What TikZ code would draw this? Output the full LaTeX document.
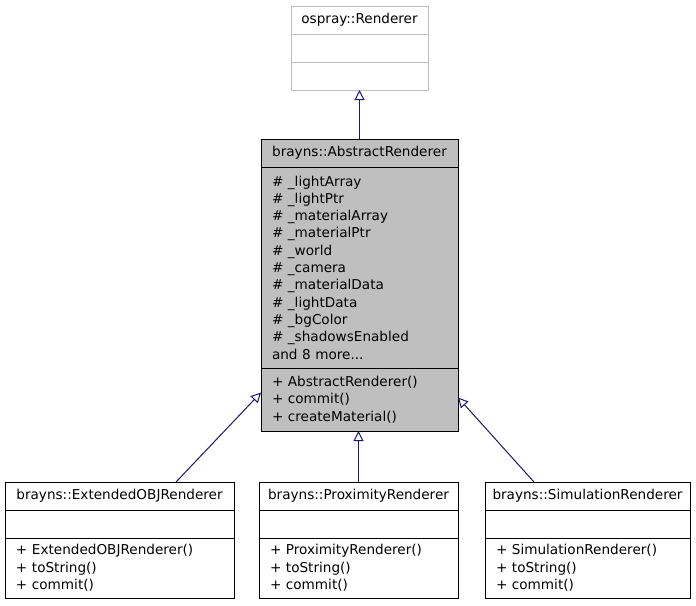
\documentclass[tikz,border=0pt]{standalone}
\usepackage{fontspec}
\setmainfont{DejaVu Sans}
\usepackage{tikz}
\usetikzlibrary{arrows.meta, positioning}
\definecolor{dxgray}{HTML}{BFBFBF}
\definecolor{dxnavy}{HTML}{191970}

\begin{document}
\begin{tikzpicture}[x=1pt, y=-1pt, line width=1pt,
  every node/.style={font=\fontsize{13.6}{17.3}\selectfont, inner sep=0pt, outer sep=0pt},
  clshead/.style={draw, fill=white, minimum height=28pt},
  clsbody/.style={draw, fill=white, inner xsep=11pt, align=left},
  inherit/.style={draw=dxnavy, -{Triangle[open, length=10pt, width=10pt]}}]
  \useasboundingbox (0,0) rectangle (696,605);
  % base class (undocumented)
  \node[clshead, draw=dxgray, minimum width=137pt, anchor=north west] (ospray) at (291,6) {ospray::Renderer};
  \node[clsbody, draw=dxgray, text width=115pt, minimum height=28pt, below=0pt of ospray] (ospray-attr) {};
  \node[clsbody, draw=dxgray, text width=115pt, minimum height=28pt, below=0pt of ospray-attr] (ospray-meth) {};
  % the abstract renderer
  \node[clshead, fill=dxgray, minimum width=197pt, anchor=north west] (abs) at (261,139) {brayns::AbstractRenderer};
  \node[clsbody, fill=dxgray, text width=175pt, minimum height=201pt, below=0pt of abs] (abs-attr)
       {\# \_lightArray\\\# \_lightPtr\\\# \_materialArray\\\# \_materialPtr\\\# \_world\\\# \_camera\\
        \# \_materialData\\\# \_lightData\\\# \_bgColor\\\# \_shadowsEnabled\\and 8 more...};
  \node[clsbody, fill=dxgray, text width=175pt, minimum height=63pt, below=0pt of abs-attr] (abs-meth)
       {+ AbstractRenderer()\\+ commit()\\+ createMaterial()};
  % derived renderers
  \foreach \n/\x/\w/\tw/\t in {ext/5/229/207/ExtendedOBJRenderer, prox/259/199/177/ProximityRenderer,
                             sim/485/205/183/SimulationRenderer} {
    \node[clshead, minimum width=\w pt, anchor=north west] (\n) at (\x,482) {brayns::\t};
    \node[clsbody, text width=\tw pt, minimum height=28pt, below=0pt of \n] (\n-attr) {};
    \node[clsbody, text width=\tw pt, minimum height=60pt, below=0pt of \n-attr] (\n-meth)
         {+ \t()\\+ toString()\\+ commit()};
  }
  % inheritance
  \draw[inherit] (abs.north) -- (ospray-meth.south);
  \draw[inherit] ([xshift=56.5pt]ext.north) -- ([yshift=7pt]abs-meth.west);
  \draw[inherit] (prox.north) -- (prox.north |- abs-meth.south);
  \draw[inherit] ([xshift=-53.5pt]sim.north) -- ([yshift=2pt]abs-meth.east);
\end{tikzpicture}
\end{document}
